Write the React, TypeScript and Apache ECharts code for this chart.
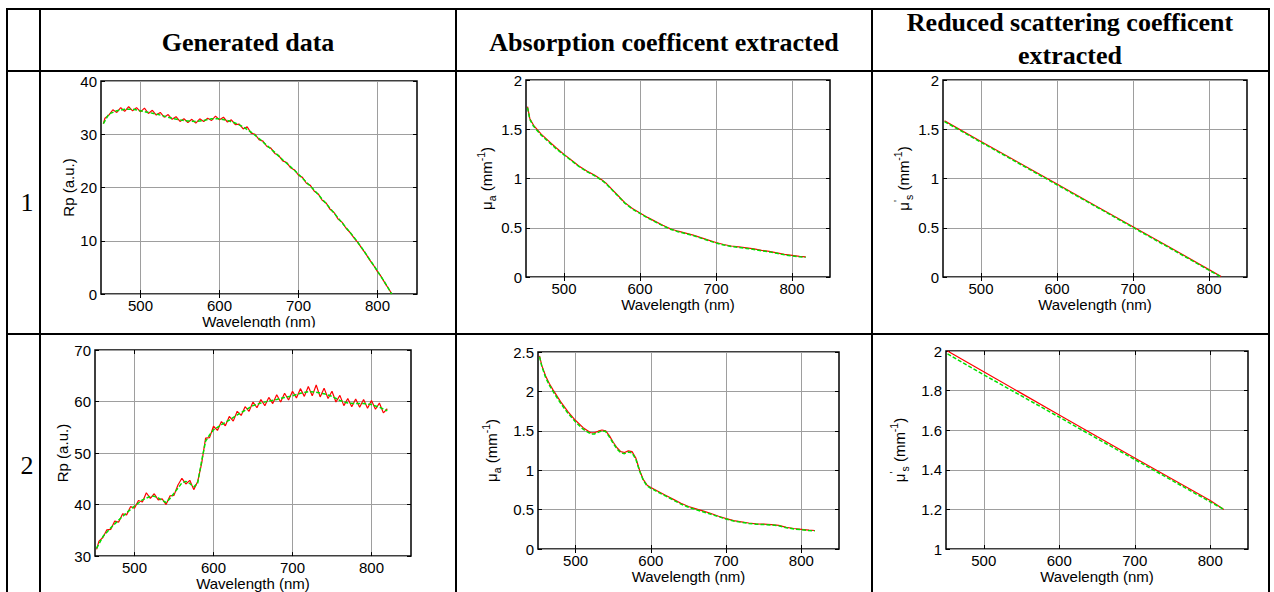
import React, { useEffect, useRef } from "react";
import * as echarts from "echarts";

// ---------- DATA ----------
const xTicks = [500, 600, 700, 800];

// Row 1, "Generated data" (Rp, a.u.)
const wl1Red = [453,455,460,465,470,475,480,485,490,495,500,505,510,515,520,525,530,535,540,545,550,555,560,565,570,575,580,585,590,595,600,605,610,615,620,625,630,635,640,645,650,655,660,665,670,675,680,685,690,695,700,705,710,715,720,725,730,735,740,745,750,755,760,765,770,775,780,785,790,795,800,805,810,815,818];
const rp1Red = [32.0,33.0,33.6,34.6,34.1,35.0,34.3,35.2,34.4,35.0,34.2,34.9,33.9,34.5,33.6,34.1,33.2,33.7,32.8,33.3,32.4,32.9,32.2,32.8,32.1,32.9,32.4,33.0,32.6,33.4,32.7,33.2,32.3,32.7,31.8,31.9,31.0,31.4,30.2,30.0,29.0,28.7,27.7,27.4,26.4,26.0,25.0,24.7,23.7,23.3,22.3,21.9,20.8,20.4,19.3,18.8,17.6,17.1,15.9,15.3,14.1,13.5,12.4,11.6,10.6,9.7,8.6,7.6,6.4,5.4,4.2,3.2,1.9,0.8,0.0];
const wl1Fit = [453,460,470,480,490,500,510,520,530,540,550,560,570,580,590,600,610,620,630,640,650,660,670,680,690,700,710,720,730,740,750,760,770,780,790,800,810,818];
const rp1Fit = [32.0,33.8,34.4,34.7,34.7,34.4,34.1,33.8,33.4,33.0,32.7,32.5,32.4,32.6,32.9,32.9,32.6,32.1,31.4,30.4,29.2,27.9,26.6,25.2,23.9,22.5,21.0,19.5,17.8,16.1,14.3,12.5,10.7,8.7,6.5,4.3,2.0,0];

// Row 1, absorption coefficient (mm^-1)
const wl2 = [452,455,460,470,480,490,500,510,520,530,540,550,555,560,570,580,590,600,610,620,630,640,650,660,670,680,690,700,710,720,730,740,750,760,770,780,790,800,810,818];
const mua1Red = [1.73,1.61,1.54,1.45,1.38,1.31,1.245,1.185,1.125,1.075,1.035,0.985,0.955,0.915,0.835,0.755,0.695,0.65,0.605,0.565,0.525,0.49,0.465,0.445,0.425,0.40,0.375,0.35,0.33,0.315,0.305,0.295,0.285,0.27,0.26,0.245,0.23,0.22,0.21,0.205];
const mua1Fit = [1.72,1.60,1.53,1.44,1.37,1.30,1.24,1.18,1.12,1.07,1.03,0.98,0.95,0.91,0.83,0.75,0.69,0.645,0.60,0.56,0.52,0.485,0.46,0.44,0.42,0.395,0.37,0.345,0.325,0.31,0.30,0.29,0.28,0.265,0.255,0.24,0.225,0.215,0.205,0.20];

// Row 1, reduced scattering coefficient (mm^-1)
const wl3 = [452,500,550,600,650,700,750,800,816];
const mus1Red = [1.585,1.375,1.16,0.945,0.725,0.51,0.295,0.075,0.005];
const mus1Fit = [1.578,1.368,1.152,0.936,0.72,0.503,0.287,0.069,0.0];

// Row 2, "Generated data" (Rp, a.u.)
const wl4Red = [452,455,460,465,470,475,480,485,490,495,500,505,510,515,520,525,530,535,540,545,550,555,560,565,570,575,580,585,590,595,600,605,610,615,620,625,630,635,640,645,650,655,660,665,670,675,680,685,690,695,700,705,710,715,720,725,730,735,740,745,750,755,760,765,770,775,780,785,790,795,800,805,810,815,820];
const rp2Red = [31.3,32.9,33.6,35.1,35.2,36.8,36.6,38.2,38.0,39.6,39.3,40.8,40.5,42.3,41.2,42.1,40.9,41.1,40.0,41.7,41.8,43.8,45.1,44.0,44.7,42.9,44.5,48.0,52.9,53.0,55.2,54.4,56.1,55.3,57.1,56.2,58.1,57.3,59.0,58.1,59.9,58.8,60.4,59.2,60.8,59.6,61.3,59.9,61.6,60.3,62.0,60.7,62.5,61.0,62.9,61.1,63.2,60.9,62.6,60.6,62.0,59.9,61.2,59.2,60.6,59.0,60.5,58.9,60.4,58.7,60.2,58.5,59.7,57.8,58.6];
const wl4Fit = [452,460,470,480,490,500,510,520,525,530,535,540,545,550,555,560,565,570,575,580,585,590,595,600,610,620,630,640,650,660,670,680,690,700,710,720,730,740,750,760,770,780,790,800,810,820];
const rp2Fit = [31.5,33.8,35.5,37.0,38.4,39.7,40.9,41.6,41.6,41.3,40.8,40.4,41.2,42.2,43.2,44.2,44.5,44.1,43.4,44.2,48.5,52.3,53.5,54.5,55.5,56.4,57.4,58.3,59.2,59.7,60.1,60.4,60.8,61.1,61.6,61.9,61.8,61.5,61.0,60.2,59.7,59.6,59.6,59.4,58.9,58.2];

// Row 2, absorption coefficient (mm^-1)
const wl5 = [452,455,460,465,470,480,490,500,510,520,525,530,535,540,545,550,555,560,565,570,575,580,585,590,595,600,610,620,630,640,650,660,670,680,690,700,710,720,730,740,750,760,770,780,790,800,810,818];
const mua2Red = [2.45,2.33,2.20,2.10,2.02,1.87,1.74,1.63,1.54,1.475,1.475,1.495,1.51,1.50,1.435,1.355,1.285,1.235,1.225,1.245,1.235,1.155,1.0,0.88,0.81,0.78,0.73,0.68,0.63,0.58,0.54,0.51,0.48,0.45,0.415,0.385,0.36,0.345,0.33,0.32,0.315,0.31,0.30,0.275,0.26,0.25,0.24,0.235];
const mua2Fit = [2.44,2.32,2.18,2.08,2.00,1.85,1.72,1.61,1.52,1.46,1.46,1.48,1.50,1.49,1.42,1.34,1.27,1.22,1.21,1.23,1.22,1.14,0.99,0.87,0.80,0.77,0.72,0.67,0.62,0.57,0.53,0.50,0.47,0.44,0.41,0.38,0.355,0.34,0.325,0.315,0.31,0.305,0.295,0.27,0.255,0.245,0.235,0.23];

// Row 2, reduced scattering coefficient (mm^-1)
const wl6 = [452,500,550,600,650,700,750,800,818];
const mus2Red = [2.0,1.895,1.786,1.677,1.568,1.46,1.352,1.245,1.2];
const mus2Fit = [1.985,1.88,1.773,1.666,1.558,1.452,1.345,1.238,1.2];

const headers = ["Generated data", "Absorption coefficent extracted", "Reduced scattering coefficent", "extracted"];
const rowLabels = ["1", "2"];
const xTitle = "Wavelength (nm)";

// ---------- STYLE ----------
const SANS = "Liberation Sans, Arial, Helvetica, sans-serif";
const SERIF = "Liberation Serif, Times New Roman, serif";
const RED = "#ff0000";
const GREEN = "#00e000";
const GRIDC = "#9e9e9e";
const FS = 15;

const pairs = (xs: number[], ys: number[]) => xs.map((x, i) => [x, ys[i]]);

const MU_A = "{t|μ}{s|a}{t| (mm}{p|-1}{t|)}";
const MU_S = "{t|μ}{p|'}{s|s}{t| (mm}{p|-1}{t|)}";

type Panel = {
  rect: { left: number; top: number; width: number; height: number };
  yMin: number; yMax: number; yInt: number;
  yName: string; nameGap: number;
  red: number[][]; fit: number[][];
};

const panels: Panel[] = [
  { rect: { left: 101, top: 81, width: 316, height: 213 }, yMin: 0, yMax: 40, yInt: 10, yName: "Rp (a.u.)", nameGap: 25, red: pairs(wl1Red, rp1Red), fit: pairs(wl1Fit, rp1Fit) },
  { rect: { left: 526, top: 80, width: 304, height: 197 }, yMin: 0, yMax: 2, yInt: 0.5, yName: MU_A, nameGap: 28, red: pairs(wl2, mua1Red), fit: pairs(wl2, mua1Fit) },
  { rect: { left: 943, top: 80, width: 304, height: 197 }, yMin: 0, yMax: 2, yInt: 0.5, yName: MU_S, nameGap: 26, red: pairs(wl3, mus1Red), fit: pairs(wl3, mus1Fit) },
  { rect: { left: 95, top: 350, width: 316, height: 207 }, yMin: 30, yMax: 70, yInt: 10, yName: "Rp (a.u.)", nameGap: 25, red: pairs(wl4Red, rp2Red), fit: pairs(wl4Fit, rp2Fit) },
  { rect: { left: 538, top: 352, width: 301, height: 197 }, yMin: 0, yMax: 2.5, yInt: 0.5, yName: MU_A, nameGap: 36, red: pairs(wl5, mua2Red), fit: pairs(wl5, mua2Fit) },
  { rect: { left: 946, top: 351, width: 302, height: 198 }, yMin: 1, yMax: 2, yInt: 0.2, yName: MU_S, nameGap: 36, red: pairs(wl6, mus2Red), fit: pairs(wl6, mus2Fit) },
];

function buildOption() {
  const grid: any[] = [];
  const xAxis: any[] = [];
  const yAxis: any[] = [];
  const series: any[] = [];
  const tickStyle = { color: "#000", width: 1 };
  panels.forEach((p, i) => {
    grid.push({ ...p.rect, show: true, borderColor: "#000", borderWidth: 1.5, containLabel: false });
    xAxis.push({
      type: "value", gridIndex: i, min: 450, max: 850,
      axisLine: { show: false },
      axisTick: { show: true, inside: true, length: 4, lineStyle: tickStyle, customValues: xTicks },
      axisLabel: { fontSize: FS, color: "#000", fontFamily: SANS, margin: 4, customValues: xTicks },
      splitLine: { show: true, lineStyle: { color: GRIDC, width: 1 } },
      name: xTitle, nameLocation: "middle", nameGap: 18,
      nameTextStyle: { fontSize: FS, color: "#000", fontFamily: SANS },
    });
    xAxis.push({
      type: "value", gridIndex: i, position: "top", min: 450, max: 850,
      axisLine: { show: false },
      axisTick: { show: true, inside: true, length: 4, lineStyle: tickStyle, customValues: xTicks },
      axisLabel: { show: false, customValues: xTicks }, splitLine: { show: false },
    });
    yAxis.push({
      type: "value", gridIndex: i, min: p.yMin, max: p.yMax, interval: p.yInt,
      axisLine: { show: false },
      axisTick: { show: true, inside: true, length: 4, lineStyle: tickStyle },
      axisLabel: { fontSize: FS, color: "#000", fontFamily: SANS, margin: 4 },
      splitLine: { show: true, lineStyle: { color: GRIDC, width: 1 } },
      name: p.yName, nameLocation: "middle", nameGap: p.nameGap,
      nameTextStyle: {
        fontSize: FS, color: "#000", fontFamily: SANS,
        rich: {
          t: { fontSize: FS, color: "#000", fontFamily: SANS, lineHeight: 22 },
          s: { fontSize: 10.5, color: "#000", fontFamily: SANS, verticalAlign: "bottom" },
          p: { fontSize: 10.5, color: "#000", fontFamily: SANS, verticalAlign: "top" },
        },
      },
    });
    yAxis.push({
      type: "value", gridIndex: i, position: "right", min: p.yMin, max: p.yMax, interval: p.yInt,
      axisLine: { show: false },
      axisTick: { show: true, inside: true, length: 4, lineStyle: tickStyle },
      axisLabel: { show: false }, splitLine: { show: false },
    });
    series.push({
      type: "line", xAxisIndex: 2 * i, yAxisIndex: 2 * i, data: p.red,
      showSymbol: false, symbol: "none", silent: true,
      lineStyle: { color: RED, width: 1.2 },
    });
    series.push({
      type: "line", xAxisIndex: 2 * i, yAxisIndex: 2 * i, data: p.fit,
      showSymbol: false, symbol: "none", silent: true,
      lineStyle: { color: GREEN, width: 1.5, type: [4, 2] },
    });
  });

  const L = (x1: number, y1: number, x2: number, y2: number) => ({
    type: "line", silent: true, z: 100,
    shape: { x1, y1, x2, y2 },
    style: { stroke: "#000", lineWidth: 2 },
  });
  const T = (text: string, x: number, y: number, bold: boolean) => ({
    type: "text", silent: true, z: 100, x, y,
    style: {
      text, fill: "#000", font: `${bold ? "bold " : ""}26px ${SERIF}`,
      textAlign: "center", textVerticalAlign: "middle",
    },
  });
  const graphic: any[] = [
    { type: "rect", silent: true, z: 90, shape: { x: 41, y: 327.5, width: 414, height: 6 }, style: { fill: "#fff" } },
    L(6, 9, 1270, 9),
    L(6, 71, 1270, 71),
    L(6, 334, 1270, 334),
    L(7, 8, 7, 592),
    L(40, 8, 40, 592),
    L(456, 8, 456, 592),
    L(872, 8, 872, 592),
    L(1269, 8, 1269, 592),
    T(headers[0], 248, 42, true),
    T(headers[1], 664, 42, true),
    T(headers[2], 1070, 22, true),
    T(headers[3], 1070, 55, true),
    T(rowLabels[0], 27, 202, false),
    T(rowLabels[1], 27, 465, false),
  ];

  return {
    animation: false,
    backgroundColor: "#fff",
    grid, xAxis, yAxis, series, graphic,
  };
}

export default function App() {
  const ref = useRef<HTMLDivElement>(null);
  useEffect(() => {
    if (!ref.current) return;
    const chart = echarts.init(ref.current, null, { renderer: "svg" });
    chart.setOption(buildOption() as any);
    return () => chart.dispose();
  }, []);
  return (
    <div
      ref={ref}
      style={{ position: "fixed", left: 0, top: 0, width: 1274, height: 592, background: "#fff" }}
    />
  );
}
